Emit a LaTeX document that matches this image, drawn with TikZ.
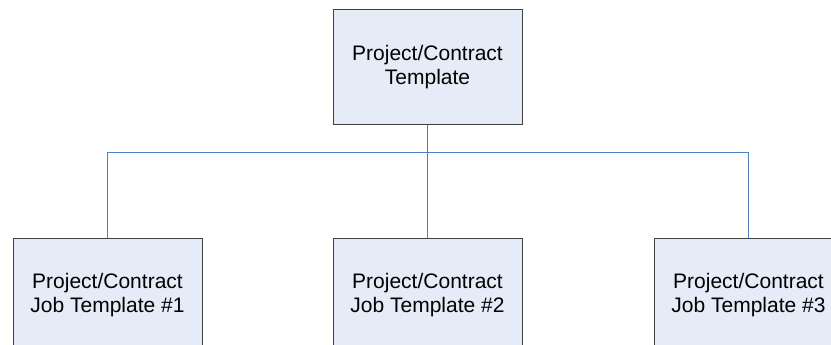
\documentclass[tikz,border=0pt]{standalone}
\usepackage{fontspec}
\setmainfont{Liberation Sans}
\definecolor{boxfill}{HTML}{E6ECF7}
\definecolor{boxline}{HTML}{404040}
\definecolor{conn}{HTML}{4F81BD}
\begin{document}
\begin{tikzpicture}[x=1pt,y=-1pt,
  orgbox/.style={draw=boxline,fill=boxfill,line width=1pt,minimum width=189pt,minimum height=115pt,inner sep=0pt,align=center,font=\fontsize{21}{24}\selectfont},
  link/.style={draw=conn,line width=1pt}]
\useasboundingbox (0,0) rectangle (831,345);
\clip (0,0) rectangle (831,345);
\node[orgbox] (top) at (427.5,67.5) {Project/Contract\\Template};
\node[orgbox] (j1) at (107.5,295.5) {Project/Contract\\Job Template \#1};
\node[orgbox] (j2) at (427.5,295.5) {Project/Contract\\Job Template \#2};
\node[orgbox] (j3) at (748.5,295.5) {Project/Contract\\Job Template \#3};
\coordinate (bus) at (427.5,152);
\draw[link] (top.south) -- (bus);
\draw[link] (j1.north) |- (bus);
\draw[link] (j3.north) |- (bus);
\draw[link] (j2.north) -- (bus);
\end{tikzpicture}
\end{document}
